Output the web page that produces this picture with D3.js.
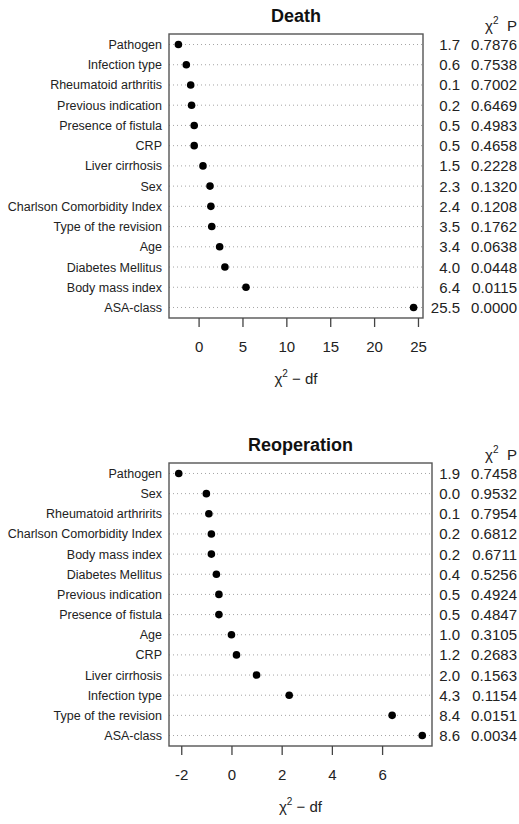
<!DOCTYPE html>
<html>
<head>
<meta charset="utf-8">
<script src="https://cdn.jsdelivr.net/npm/d3@7/dist/d3.min.js"></script>
<style>
  html, body { margin: 0; padding: 0; background: #fff; }
  svg { display: block; font-family: "Liberation Sans", Arial, Helvetica, sans-serif; }
</style>
</head>
<body>
<svg id="chart" width="519" height="824"></svg>
<script>
// ---- Death model: contribution of each predictor ----
const deathLabels = ["Pathogen", "Infection type", "Rheumatoid arthritis", "Previous indication",
  "Presence of fistula", "CRP", "Liver cirrhosis", "Sex", "Charlson Comorbidity Index",
  "Type of the revision", "Age", "Diabetes Mellitus", "Body mass index", "ASA-class"];
const deathChi2 = [1.7, 0.6, 0.1, 0.2, 0.5, 0.5, 1.5, 2.3, 2.4, 3.5, 3.4, 4.0, 6.4, 25.5];
const deathDf   = [4, 2, 1, 1, 1, 1, 1, 1, 1, 2, 1, 1, 1, 1];
const deathP    = ["0.7876", "0.7538", "0.7002", "0.6469", "0.4983", "0.4658", "0.2228",
  "0.1320", "0.1208", "0.1762", "0.0638", "0.0448", "0.0115", "0.0000"];
const deathTicks = [0, 5, 10, 15, 20, 25];

// ---- Reoperation model ----
const reopLabels = ["Pathogen", "Sex", "Rheumatoid arthririts", "Charlson Comorbidity Index",
  "Body mass index", "Diabetes Mellitus", "Previous indication", "Presence of fistula", "Age",
  "CRP", "Liver cirrhosis", "Infection type", "Type of the revision", "ASA-class"];
const reopChi2 = [1.9, 0.0, 0.1, 0.2, 0.2, 0.4, 0.5, 0.5, 1.0, 1.2, 2.0, 4.3, 8.4, 8.6];
const reopDf   = [4, 1, 1, 1, 1, 1, 1, 1, 1, 1, 1, 2, 2, 1];
const reopP    = ["0.7458", "0.9532", "0.7954", "0.6812", "0.6711", "0.5256", "0.4924",
  "0.4847", "0.3105", "0.2683", "0.1563", "0.1154", "0.0151", "0.0034"];
const reopTicks = [-2, 0, 2, 4, 6];

const svg = d3.select("#chart");

function panel(cfg) {
  const n = cfg.labels.length;
  const rows = cfg.labels.map((lab, i) => ({
    label: lab,
    chi2: cfg.chi2[i],
    value: +(cfg.chi2[i] - cfg.df[i]).toFixed(1),
    p: cfg.p[i],
    pos: i + 1
  }));

  // x range padded by 4% on each side, as in a classic dot chart
  const ext = d3.extent(rows, d => d.value);
  const padX = (ext[1] - ext[0]) * 0.04;
  const x = d3.scaleLinear()
    .domain([ext[0] - padX, ext[1] + padX])
    .range([cfg.left, cfg.right]);

  const padY = (n - 1) * 0.04;
  const y = d3.scaleLinear()
    .domain([1 - padY, n + padY])
    .range([cfg.top, cfg.bottom]);

  const g = svg.append("g");

  // title
  g.append("text")
    .attr("x", (cfg.left + cfg.right) / 2)
    .attr("y", cfg.titleY)
    .attr("text-anchor", "middle")
    .attr("font-size", 18)
    .attr("font-weight", "bold")
    .attr("fill", "#111")
    .text(cfg.title);

  // dotted guide lines
  g.selectAll("line.guide").data(rows).join("line")
    .attr("class", "guide")
    .attr("x1", cfg.left).attr("x2", cfg.right)
    .attr("y1", d => y(d.pos)).attr("y2", d => y(d.pos))
    .attr("stroke", "#a5a5a5")
    .attr("stroke-width", 1)
    .attr("stroke-dasharray", "1 3");

  // category labels
  g.selectAll("text.lab").data(rows).join("text")
    .attr("class", "lab")
    .attr("x", cfg.left - 7)
    .attr("y", d => y(d.pos) + 4.5)
    .attr("text-anchor", "end")
    .attr("font-size", 12.5)
    .attr("fill", "#222")
    .text(d => d.label);

  // points
  g.selectAll("circle").data(rows).join("circle")
    .attr("cx", d => x(d.value))
    .attr("cy", d => y(d.pos))
    .attr("r", 3.8)
    .attr("fill", "#000");

  // frame
  g.append("rect")
    .attr("x", cfg.left).attr("y", cfg.top)
    .attr("width", cfg.right - cfg.left)
    .attr("height", cfg.bottom - cfg.top)
    .attr("fill", "none")
    .attr("stroke", "#555")
    .attr("stroke-width", 1.4);

  // x axis (plain hyphen for negative tick labels)
  const ax = g.append("g")
    .attr("transform", `translate(0,${cfg.bottom})`)
    .call(d3.axisBottom(x).tickValues(cfg.ticks).tickSize(9).tickPadding(14)
      .tickFormat(d => String(d)));
  ax.select(".domain").remove();
  ax.selectAll(".tick line").attr("stroke", "#444").attr("stroke-width", 1.3);
  ax.selectAll(".tick text")
    .attr("font-size", 15)
    .attr("font-family", "Liberation Sans, Arial, sans-serif")
    .attr("fill", "#222");

  // axis title: chi^2 - df
  const at = g.append("text")
    .attr("x", (cfg.left + cfg.right) / 2)
    .attr("y", cfg.bottom + 66)
    .attr("text-anchor", "middle")
    .attr("font-size", 15)
    .attr("fill", "#222");
  at.append("tspan").text("\u03C7");
  at.append("tspan").attr("dy", -7).attr("font-size", 10).text("2");
  at.append("tspan").attr("dy", 7).text(" \u2212  df");

  // column header
  const hx = g.append("text")
    .attr("x", 485)
    .attr("y", cfg.top - 3)
    .attr("font-size", 15)
    .attr("fill", "#222");
  hx.append("tspan").text("\u03C7");
  hx.append("tspan").attr("dy", -7).attr("font-size", 10).text("2");
  g.append("text")
    .attr("x", 517)
    .attr("y", cfg.top - 3)
    .attr("text-anchor", "end")
    .attr("font-size", 15)
    .attr("fill", "#222")
    .text("P");

  // chi-square values and P values
  g.selectAll("text.chi").data(rows).join("text")
    .attr("class", "chi")
    .attr("x", 460)
    .attr("y", d => y(d.pos) + 5.5)
    .attr("text-anchor", "end")
    .attr("font-size", 15)
    .attr("fill", "#222")
    .text(d => d.chi2.toFixed(1));
  g.selectAll("text.pv").data(rows).join("text")
    .attr("class", "pv")
    .attr("x", 517)
    .attr("y", d => y(d.pos) + 5.5)
    .attr("text-anchor", "end")
    .attr("font-size", 15)
    .attr("fill", "#222")
    .text(d => d.p);
}

panel({
  title: "Death", titleY: 22,
  labels: deathLabels, chi2: deathChi2, df: deathDf, p: deathP, ticks: deathTicks,
  left: 169, right: 423, top: 34, bottom: 318
});

panel({
  title: "Reoperation", titleY: 451,
  labels: reopLabels, chi2: reopChi2, df: reopDf, p: reopP, ticks: reopTicks,
  left: 169, right: 432, top: 463, bottom: 746
});
</script>
</body>
</html>
